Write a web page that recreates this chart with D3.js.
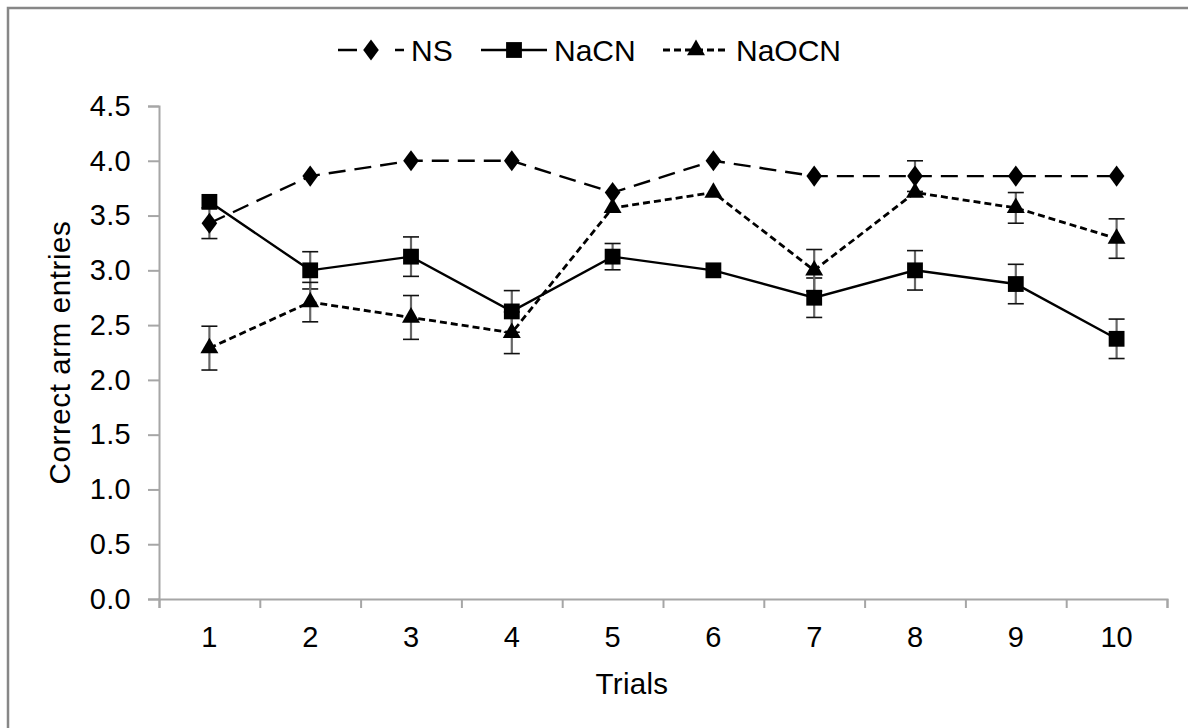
<!DOCTYPE html>
<html>
<head>
<meta charset="utf-8">
<script src="https://cdn.jsdelivr.net/npm/d3@7"></script>
<style>
  body { margin: 0; background: #fff; }
  text { font-family: "Liberation Sans", Arial, sans-serif; fill: #000; }
</style>
</head>
<body>
<svg id="chart"></svg>
<script>
// data
const trials = [1, 2, 3, 4, 5, 6, 7, 8, 9, 10];
const nsMean = [3.43, 3.86, 4.0, 4.0, 3.71, 4.0, 3.86, 3.86, 3.86, 3.86];
const nsErr = [0.14, 0, 0, 0, 0, 0, 0, 0.14, 0, 0];
const nacnMean = [3.625, 3.0, 3.125, 2.625, 3.125, 3.0, 2.75, 3.0, 2.875, 2.375];
const nacnErr = [0, 0.17, 0.18, 0.19, 0.12, 0, 0.18, 0.18, 0.18, 0.18];
const naocnMean = [2.29, 2.71, 2.57, 2.43, 3.57, 3.71, 3.0, 3.71, 3.57, 3.29];
const naocnErr = [0.2, 0.18, 0.2, 0.19, 0, 0, 0.19, 0, 0.14, 0.18];
const yTicks = [0, 0.5, 1.0, 1.5, 2.0, 2.5, 3.0, 3.5, 4.0, 4.5];

const series = [
  { name: 'NS', mean: nsMean, err: nsErr, dash: '17,9', width: 2.4, marker: 'diamond' },
  { name: 'NaCN', mean: nacnMean, err: nacnErr, dash: null, width: 2.4, marker: 'square' },
  { name: 'NaOCN', mean: naocnMean, err: naocnErr, dash: '7,4', width: 2.8, marker: 'triangle' }
];

const width = 1188, height = 728;
const margin = { top: 106, right: 21, bottom: 129, left: 159 };
const innerW = width - margin.left - margin.right;
const innerH = height - margin.top - margin.bottom;

const svg = d3.select('#chart').attr('width', width).attr('height', height);

// frame, only top and left edges show in the picture
svg.append('path')
  .attr('d', `M8,${height} V8 H${width}`)
  .attr('fill', 'none')
  .attr('stroke', '#878787')
  .attr('stroke-width', 2.5);

const chartArea = svg.append('g')
  .attr('transform', `translate(${margin.left},${margin.top})`);

const xScale = d3.scaleBand().domain(trials).range([0, innerW]);
const xEdge = d3.scaleLinear().domain([0, trials.length]).range([0, innerW]);
const yScale = d3.scaleLinear().domain([0, 4.5]).range([innerH, 0]);
const cx = d => xScale(d) + xScale.bandwidth() / 2;

// y axis
const yAxisG = chartArea.append('g')
  .call(d3.axisLeft(yScale).tickValues(yTicks).tickSize(11).tickPadding(17).tickFormat(d3.format('.1f')));
yAxisG.selectAll('text').attr('font-size', 29).style('letter-spacing', '0.3px');

// x axis: ticks at category edges, labels in the middle
const xAxisG = chartArea.append('g')
  .attr('transform', `translate(0,${innerH})`)
  .call(d3.axisBottom(xEdge).tickValues(d3.range(0, trials.length + 1)).tickSize(9).tickFormat(''));
const xLabelG = chartArea.append('g')
  .attr('transform', `translate(0,${innerH})`)
  .call(d3.axisBottom(xScale).tickSize(0).tickPadding(27));
xLabelG.select('.domain').remove();
xLabelG.selectAll('text').attr('font-size', 29);

chartArea.selectAll('.domain, .tick line')
  .attr('stroke', '#a6a6a6')
  .attr('stroke-width', 2);

// axis titles
svg.append('text')
  .attr('transform', `translate(70,${margin.top + innerH / 2}) rotate(-90)`)
  .attr('text-anchor', 'middle')
  .attr('font-size', 29.5)
  .style('letter-spacing', '0.6px')
  .text('Correct arm entries');

svg.append('text')
  .attr('x', 632)
  .attr('y', 694)
  .attr('text-anchor', 'middle')
  .attr('font-size', 29.5)
  .style('letter-spacing', '0.3px')
  .text('Trials');

const symbols = {
  diamond: d3.symbol().type(d3.symbolDiamond).size(160),
  square: d3.symbol().type(d3.symbolSquare).size(250),
  triangle: d3.symbol().type(d3.symbolTriangle).size(140)
};

const line = d3.line().x(d => cx(d.t)).y(d => yScale(d.v));

series.forEach(s => {
  const pts = trials.map((t, i) => ({ t, v: s.mean[i], e: s.err[i] }));

  // error bars
  const eb = chartArea.append('g').selectAll('g')
    .data(pts.filter(d => d.e > 0))
    .join('g');
  eb.append('line')
    .attr('x1', d => cx(d.t)).attr('x2', d => cx(d.t))
    .attr('y1', d => yScale(d.v + d.e)).attr('y2', d => yScale(d.v - d.e))
    .attr('stroke', '#666').attr('stroke-width', 2.2);
  [1, -1].forEach(k => {
    eb.append('line')
      .attr('x1', d => cx(d.t) - 8).attr('x2', d => cx(d.t) + 8)
      .attr('y1', d => yScale(d.v + k * d.e)).attr('y2', d => yScale(d.v + k * d.e))
      .attr('stroke', '#111').attr('stroke-width', 1.6);
  });

  chartArea.append('path')
    .datum(pts.map(d => ({ t: d.t, v: d.v })))
    .attr('d', line)
    .attr('fill', 'none')
    .attr('stroke', '#000')
    .attr('stroke-width', s.width)
    .attr('stroke-dasharray', s.dash);
});

// markers on top
series.forEach(s => {
  chartArea.append('g').selectAll('path')
    .data(trials.map((t, i) => ({ t, v: s.mean[i] })))
    .join('path')
    .attr('d', symbols[s.marker])
    .attr('transform', d => `translate(${cx(d.t)},${yScale(d.v)})${s.marker === 'diamond' ? ' scale(1.15,0.9)' : ''}`)
    .attr('fill', '#000');
});

// legend
const legendX = [338, 481, 663];
const legend = svg.append('g');
series.forEach((s, i) => {
  const g = legend.append('g').attr('transform', `translate(${legendX[i]},50)`);
  g.append('line')
    .attr('x1', 0).attr('x2', 66)
    .attr('stroke', '#000')
    .attr('stroke-width', s.width)
    .attr('stroke-dasharray', s.name === 'NS' ? '19,38,10' : s.dash);
  g.append('path')
    .attr('d', symbols[s.marker])
    .attr('transform', `translate(33,0)${s.marker === 'diamond' ? ' scale(1.15,0.9)' : ''}`);
  g.append('text')
    .attr('x', 73)
    .attr('y', 11)
    .attr('font-size', 30)
    .text(s.name);
});
</script>
</body>
</html>
